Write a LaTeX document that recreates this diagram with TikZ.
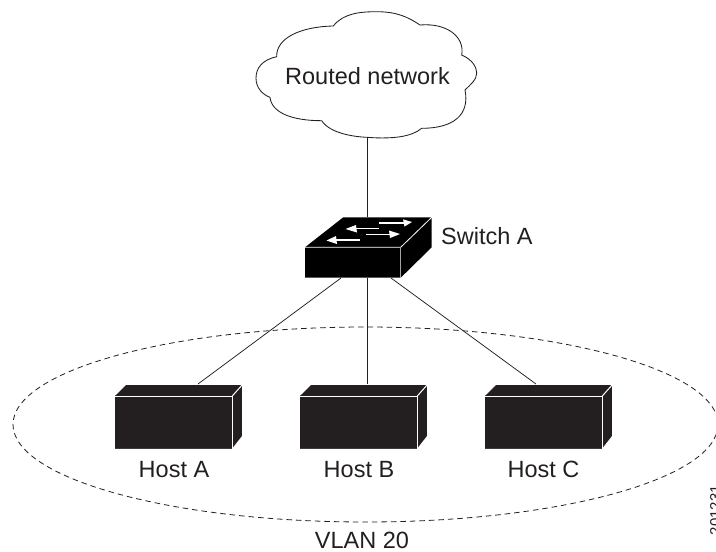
\documentclass[tikz,border=0pt]{standalone}
\usepackage{fontspec}
\setmainfont{Liberation Sans}
\definecolor{ink}{HTML}{231F20}
\tikzset{
  lbl/.style={inner sep=0pt,text=ink,font=\fontsize{23.5}{28}\selectfont},
  wire/.style={draw=ink,line width=0.75pt},
  boxedge/.style={draw=white,line width=1pt},
  wharrow/.style={draw=white,line width=1.5pt},
  wharhead/.style={fill=white,draw=none}
}
\newcommand{\hostbox}[2]{%
  \begin{scope}[shift={(#1,0)}]
    \fill[ink] (114,396) -- (126,384.3) -- (242.7,384.3) -- (242.7,436) -- (232.3,449.3) -- (114,449.3) -- cycle;
    \draw[boxedge] (114,449.3) -- (114,396) -- (232.3,396) -- (232.3,449.3);
    \draw[boxedge] (114,396) -- (126,384.3) -- (242.7,384.3) -- (232.3,396);
    \draw[boxedge] (242.7,384.3) -- (242.7,436) -- (232.3,449.3) -- (114,449.3);
    \coordinate (#2) at (198,384);
  \end{scope}}
\begin{document}
\begin{tikzpicture}[x=1pt,y=-1pt]
\useasboundingbox (0,0) rectangle (716,552);
% VLAN ellipse
\draw[ink,line width=0.8pt,dash pattern=on 5.5pt off 4pt] (365.5,424.5) ellipse [x radius=352.5,y radius=97.5];
% Cloud
\draw[ink,line width=0.85pt,fill=white]
  (333.3,26) .. controls (343.3,13.3) and (360,11.7) .. (376.7,11.7)
  .. controls (396.7,11.7) and (408,17) .. (420,25)
  .. controls (446.7,22.7) and (465,36.7) .. (461.7,55)
  .. controls (473.3,60) and (476.7,68) .. (476.7,73.3)
  .. controls (476.7,80) and (470,85) .. (465,90)
  .. controls (470,115) and (453.3,128.3) .. (421.7,128.3)
  .. controls (411.7,136.7) and (393.3,139.3) .. (366.7,137.3)
  .. controls (353.3,136.7) and (330,133.3) .. (321.7,120.7)
  .. controls (293.3,120.7) and (271.7,113.3) .. (270,97.3)
  .. controls (263.3,95) and (256,88.3) .. (256,78.3)
  .. controls (256,68.3) and (261.7,60) .. (276.7,56.7)
  .. controls (276,38.3) and (300,26.7) .. (333.3,26) -- cycle;
\node[lbl] (routed) at (367.5,76.5) {Routed network};
% ports
\coordinate (cloudport) at (367,138);
\coordinate (swtop) at (367,217);
\coordinate (swl) at (341,278);
\coordinate (swm) at (367,278);
\coordinate (swr) at (391,278);
% Switch
\fill[black] (305,247.3) -- (343.3,217.3) -- (431.7,217.3) -- (431.7,247.3) -- (400.7,277.7) -- (305,277.7) -- cycle;
\draw[white,line width=0.8pt] (305,247.3) -- (400.7,247.3) -- (431.7,217.3);
\draw[white!65!black,line width=0.8pt] (400.7,247.3) -- (400.7,277.7);
% Switch arrows
\draw[wharrow] (379,223) -- (405,223);
\fill[wharhead] (412,222) -- (403,219.3) -- (404.5,226.5) -- cycle;
\draw[wharrow] (379,228.5) -- (353,228.5);
\fill[wharhead] (345.5,229) -- (356,225) -- (357,232.5) -- cycle;
\draw[wharrow] (366,234.5) -- (392,234.5);
\fill[wharhead] (400,234) -- (389,230.5) -- (390,238) -- cycle;
\draw[wharrow] (360,240) -- (333,240);
\fill[wharhead] (326.5,240.5) -- (336,236) -- (337,244) -- cycle;
\node[lbl,anchor=west] (switcha) at (441,236) {Switch A};
% Hosts
\hostbox{0}{ha}
\hostbox{185}{hb}
\hostbox{370}{hc}
\coordinate (hbp) at (367,384);
\coordinate (hcp) at (536,384);
% Connectors
\draw[wire] (cloudport) -- (swtop);
\draw[wire] (swl) -- (ha);
\draw[wire] (swm) -- (hbp);
\draw[wire] (swr) -- (hcp);
\node[lbl] (hosta) at (174,469.5) {Host A};
\node[lbl] (hostb) at (359,469.5) {Host B};
\node[lbl] (hostc) at (543.5,469.5) {Host C};
\node[lbl] (vlan) at (362,540) {VLAN 20};
\node[inner sep=0pt,text=ink,rotate=90,anchor=base,font=\fontsize{15}{18}\selectfont] (fig) at (720.7,510) {201231};
\end{tikzpicture}
\end{document}
